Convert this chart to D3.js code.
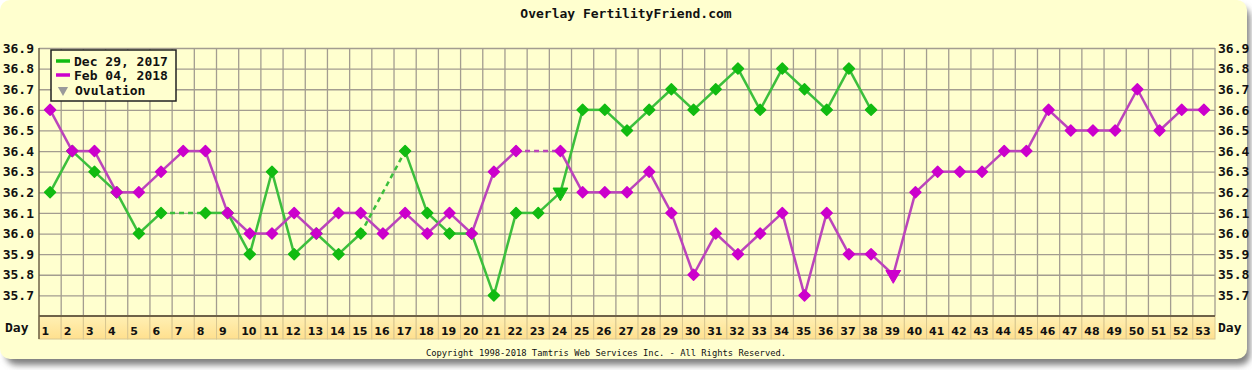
<!DOCTYPE html>
<html>
<head>
<meta charset="utf-8">
<script src="https://cdn.jsdelivr.net/npm/d3@7"></script>
<style>
  body { margin: 0; background: #fff; }
  svg text { font-family: "DejaVu Sans Mono", monospace; font-weight: bold; fill: #111; }
</style>
</head>
<body>
<svg id="chart" width="1252" height="370"></svg>
<script>
const days = d3.range(1, 54);
const yTicks = [35.7, 35.8, 35.9, 36.0, 36.1, 36.2, 36.3, 36.4, 36.5, 36.6, 36.7, 36.8, 36.9];

// temperatures by day (null = no reading)
const dec29 = [36.2, 36.4, 36.3, 36.2, 36.0, 36.1, null, 36.1, 36.1, 35.9,
  36.3, 35.9, 36.0, 35.9, 36.0, null, 36.4, 36.1, 36.0, 36.0,
  35.7, 36.1, 36.1, 36.2, 36.6, 36.6, 36.5, 36.6, 36.7, 36.6,
  36.7, 36.8, 36.6, 36.8, 36.7, 36.6, 36.8, 36.6];
const feb04 = [36.6, 36.4, 36.4, 36.2, 36.2, 36.3, 36.4, 36.4, 36.1, 36.0,
  36.0, 36.1, 36.0, 36.1, 36.1, 36.0, 36.1, 36.0, 36.1, 36.0,
  36.3, 36.4, null, 36.4, 36.2, 36.2, 36.2, 36.3, 36.1, 35.8,
  36.0, 35.9, 36.0, 36.1, 35.7, 36.1, 35.9, 35.9, 35.8, 36.2,
  36.3, 36.3, 36.3, 36.4, 36.4, 36.6, 36.5, 36.5, 36.5, 36.7,
  36.5, 36.6, 36.6];
const ovulationDays = { dec29: 24, feb04: 39 };

const series = [
  { key: "dec29", label: "Dec 29, 2017", values: dec29, line: "#3cbf3c", mark: "#11bb11" },
  { key: "feb04", label: "Feb 04, 2018", values: feb04, line: "#bb44bb", mark: "#cc00cc" }
];

const svg = d3.select("#chart");
const plotLeft = 39, plotRight = 1215, plotTop = 48, plotBottom = 316;

const x = d3.scaleBand().domain(days).range([plotLeft, plotRight]);
const y = d3.scaleLinear().domain([35.6, 36.9]).range([plotBottom, plotTop]);
const cx = d => x(d) + x.bandwidth() / 2;

const defs = svg.append("defs");
defs.append("filter").attr("id", "shadow").attr("x", "-5%").attr("y", "-5%").attr("width", "110%").attr("height", "120%")
  .append("feGaussianBlur").attr("stdDeviation", 3);
const grad = defs.append("linearGradient").attr("id", "dayfill").attr("x1", 0).attr("x2", 0).attr("y1", 0).attr("y2", 1);
grad.append("stop").attr("offset", "0%").attr("stop-color", "#fff0b4");
grad.append("stop").attr("offset", "100%").attr("stop-color", "#ffe08e");

// panel + shadow
svg.append("rect").attr("x", 6).attr("y", 7).attr("width", 1244).attr("height", 358).attr("rx", 10)
  .attr("fill", "#808080").attr("filter", "url(#shadow)");
svg.append("rect").attr("x", 0).attr("y", 0).attr("width", 1247).attr("height", 359).attr("rx", 10)
  .attr("fill", "#ffffcf");

svg.append("text").attr("x", 626).attr("y", 18).attr("text-anchor", "middle")
  .style("font-size", "13px").text("Overlay FertilityFriend.com");

// horizontal grid + left labels
const yl = svg.append("g").attr("transform", `translate(${plotLeft},0)`)
  .call(d3.axisLeft(y).tickValues(yTicks).tickFormat(d3.format(".1f")).tickSize(-(plotRight - plotLeft)).tickPadding(5));
yl.select(".domain").remove();
yl.selectAll("line").attr("stroke", "#a39d90").attr("stroke-width", 1.3);
yl.selectAll("text").style("font-size", "13px").style("font-family", "DejaVu Sans Mono").attr("fill", "#111");

const yr = svg.append("g").attr("transform", `translate(${plotRight},0)`)
  .call(d3.axisRight(y).tickValues(yTicks).tickFormat(d3.format(".1f")).tickSize(0).tickPadding(3));
yr.select(".domain").remove();
yr.selectAll("text").style("font-size", "13px").style("font-family", "DejaVu Sans Mono").attr("fill", "#111");

// vertical grid
svg.append("g").selectAll("line").data(days.slice(1)).join("line")
  .attr("x1", d => x(d)).attr("x2", d => x(d))
  .attr("y1", plotTop).attr("y2", plotBottom)
  .attr("stroke", "#a39d90").attr("stroke-width", 1.3);
svg.append("line").attr("x1", plotRight).attr("x2", plotRight).attr("y1", plotTop).attr("y2", plotBottom)
  .attr("stroke", "#a39d90").attr("stroke-width", 1.3);

// day row
const dayRow = svg.append("g");
dayRow.selectAll("rect").data(days).join("rect")
  .attr("x", d => x(d)).attr("y", plotBottom).attr("width", x.bandwidth()).attr("height", 23)
  .attr("fill", "url(#dayfill)").attr("stroke", "#d8c690").attr("stroke-width", 1);
dayRow.selectAll("text").data(days).join("text")
  .attr("x", d => x(d) + 2.5).attr("y", 335)
  .style("font-family", "'DejaVu Sans', sans-serif").style("font-size", "11px")
  .text(d => d);
svg.append("text").attr("x", 5).attr("y", 332).style("font-size", "13px").text("Day");
svg.append("text").attr("x", 1218).attr("y", 332).style("font-size", "13px").text("Day");

// plot borders
svg.append("line").attr("x1", plotLeft).attr("x2", plotLeft).attr("y1", plotTop).attr("y2", plotBottom + 23)
  .attr("stroke", "#6e6248").attr("stroke-width", 1.5);
svg.append("line").attr("x1", plotLeft).attr("x2", plotRight).attr("y1", plotBottom).attr("y2", plotBottom)
  .attr("stroke", "#6e6248").attr("stroke-width", 2);

// series
const diamond = d3.symbol().type(d3.symbolSquare).size(60);
const tri = d3.symbol().type(d3.symbolTriangle).size(95);

series.forEach(s => {
  const pts = s.values.map((v, i) => ({ day: i + 1, v })).filter(p => p.v !== null);
  const segs = d3.pairs(pts);
  const g = svg.append("g");
  g.selectAll("line").data(segs).join("line")
    .attr("x1", d => cx(d[0].day)).attr("y1", d => y(d[0].v))
    .attr("x2", d => cx(d[1].day)).attr("y2", d => y(d[1].v))
    .attr("stroke", s.line).attr("stroke-width", 2.5)
    .attr("stroke-dasharray", d => d[1].day - d[0].day > 1 ? "5,4" : null);
  g.selectAll("path").data(pts.filter(p => p.day !== ovulationDays[s.key])).join("path")
    .attr("d", diamond)
    .attr("transform", d => `translate(${cx(d.day)},${y(d.v)}) rotate(45)`)
    .attr("fill", s.mark).attr("stroke", s.mark).attr("stroke-width", 1.5).attr("stroke-linejoin", "round");
  const od = ovulationDays[s.key];
  g.append("path").attr("d", tri)
    .attr("transform", `translate(${cx(od)},${y(s.values[od - 1])}) rotate(180)`)
    .attr("fill", s.mark).attr("stroke", s.mark).attr("stroke-width", 1);
});

// legend
const lg = svg.append("g").attr("transform", "translate(51,50)");
lg.append("rect").attr("width", 125).attr("height", 51).attr("fill", "#ffffcf").attr("stroke", "#222").attr("stroke-width", 1.5);
series.forEach((s, i) => {
  lg.append("line").attr("x1", 5).attr("x2", 19).attr("y1", 11 + i * 14).attr("y2", 11 + i * 14)
    .attr("stroke", s.mark).attr("stroke-width", 3.5);
  lg.append("text").attr("x", 23).attr("y", 15.5 + i * 14).style("font-size", "13px").text(s.label);
});
lg.append("path").attr("d", d3.symbol().type(d3.symbolTriangle).size(45))
  .attr("transform", "translate(12,40) rotate(180)").attr("fill", "#9a9a9a");
lg.append("text").attr("x", 24).attr("y", 45).style("font-size", "13px").text("Ovulation");

svg.append("text").attr("x", 606).attr("y", 356).attr("text-anchor", "middle")
  .style("font-size", "8.8px").style("font-weight", "normal")
  .text("Copyright 1998-2018 Tamtris Web Services Inc. - All Rights Reserved.");
</script>
</body>
</html>
